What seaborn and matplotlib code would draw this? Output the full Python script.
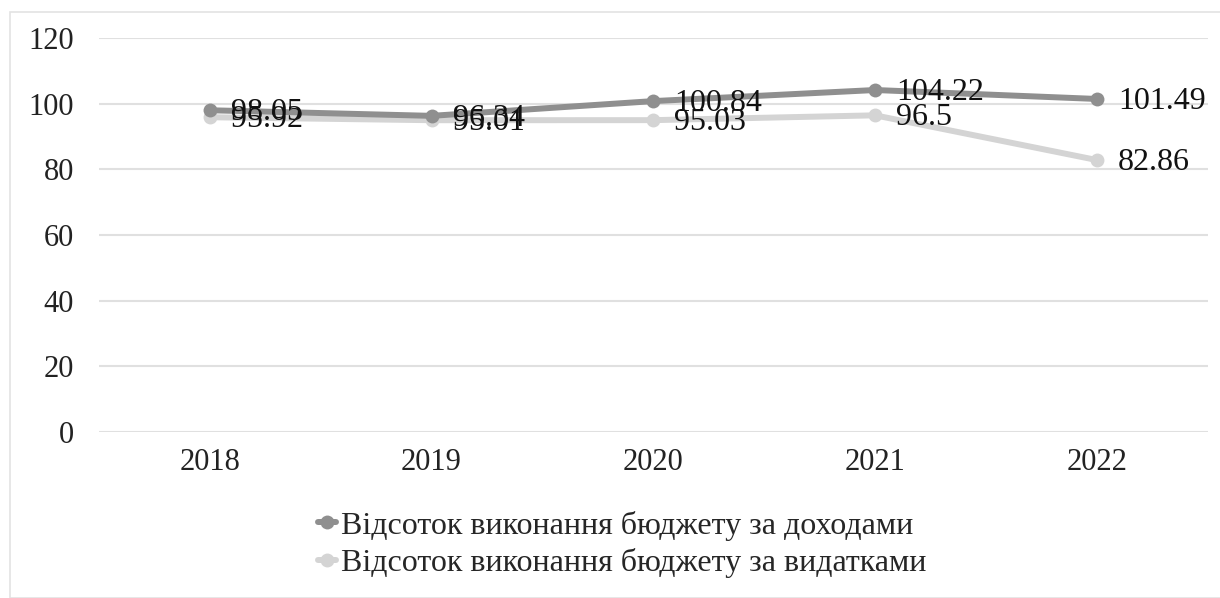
import matplotlib
matplotlib.use("Agg")
import matplotlib.pyplot as plt
from matplotlib.patches import Rectangle
from matplotlib.lines import Line2D
import seaborn as sns
import pandas as pd

years = ["2018", "2019", "2020", "2021", "2022"]
income_pct = [98.05, 96.34, 100.84, 104.22, 101.49]
expense_pct = [95.92, 95.01, 95.03, 96.5, 82.86]
series_names = [
    "Відсоток виконання бюджету за доходами",
    "Відсоток виконання бюджету за видатками",
]
y_ticks = [0, 20, 40, 60, 80, 100, 120]

sns.set_theme(style="white")
plt.rcParams["font.family"] = ["Liberation Serif", "DejaVu Serif"]

colors = {series_names[0]: "#8f8f8f", series_names[1]: "#d4d4d4"}

df = pd.DataFrame({
    "year": years * 2,
    "value": income_pct + expense_pct,
    "series": [series_names[0]] * len(years) + [series_names[1]] * len(years),
})
df["x"] = df["year"].map({y: i for i, y in enumerate(years)})

fig = plt.figure(figsize=(12.2, 5.98), dpi=100)
ax = fig.add_axes([0.081, 0.278, 0.909, 0.658])

# light frame around the whole chart
fig.patches.append(Rectangle((10 / 1220, 0), 1.0, 1 - 12 / 598, transform=fig.transFigure,
                             fill=False, edgecolor="#e3e3e3", linewidth=1.2))

for name in series_names[::-1]:
    sub = df[df["series"] == name]
    sns.lineplot(data=sub, x="x", y="value", ax=ax, color=colors[name],
                 linewidth=4.3, marker="o", markersize=10, markeredgewidth=0,
                 legend=False, zorder=3 if name == series_names[0] else 2)

for vals in (income_pct, expense_pct):
    for i, v in enumerate(vals):
        ax.text(i + 0.095, v - 0.8, f"{v:g}", fontsize=23, va="center", ha="left",
                color="#111111", zorder=5)

ax.set_xlim(-0.5, len(years) - 0.5)
ax.set_ylim(0, 120)
ax.set_yticks(y_ticks)
ax.set_xticks(range(len(years)))
ax.set_xticklabels(years)
ax.tick_params(axis="both", length=0, labelsize=22, labelcolor="#222222")
ax.tick_params(axis="y", pad=18)
ax.tick_params(axis="x", pad=12)
ax.grid(axis="y", color="#e0e0e0", linewidth=1.5)
ax.set_xlabel("")
ax.set_ylabel("")
for s in ax.spines.values():
    s.set_visible(False)

handles = [Line2D([0], [0], color=colors[n], linewidth=4.3, marker="o", markersize=10,
                  markeredgewidth=0) for n in series_names]
fig.legend(handles, series_names, loc="center", bbox_to_anchor=(0.51, 0.09), ncol=1,
           frameon=False, fontsize=23, handlelength=0.55, handletextpad=0.15,
           labelspacing=0.22)

fig.savefig("out.png", dpi=100)
